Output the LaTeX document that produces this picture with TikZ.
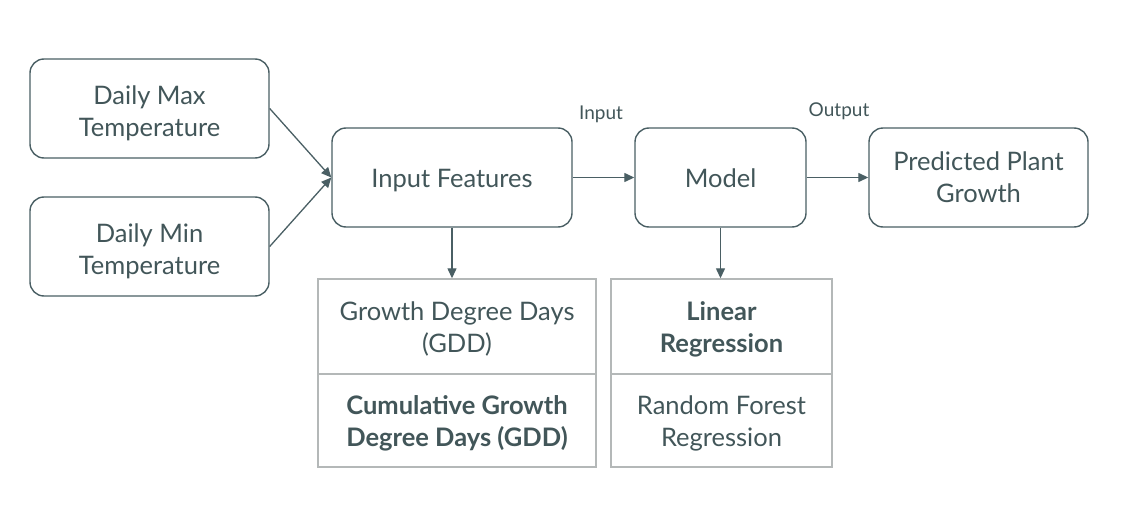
\documentclass[tikz,border=0pt]{standalone}
\usepackage{fontspec}
\setmainfont{Lato}
\usetikzlibrary{arrows.meta}
\definecolor{ink}{HTML}{4A5F64}
\definecolor{txt}{HTML}{425659}
\definecolor{cell}{HTML}{B4B8B8}
% first-line strut: height of "l" plus #1 pt, to place the text lines as in the reference
\newcommand{\ls}[1]{\rule{0pt}{\dimexpr\fontcharht\font`\l+#1pt\relax}}
\tikzset{
  rbox/.style={draw=ink, line width=1.4pt, rounded corners=14pt, align=center, text=txt,
    font=\fontsize{25.5}{32}\selectfont, inner sep=0pt, text depth=0pt},
  tcell/.style={draw=cell, line width=1.4pt, align=center, text=txt,
    font=\fontsize{25.5}{32}\selectfont, inner sep=0pt, text depth=0pt},
  bcell/.style={tcell, font=\fontsize{25.5}{32}\selectfont\bfseries},
  conn/.style={draw=ink, line width=1.3pt, -{Triangle[length=10pt,width=9pt]}},
  lbl/.style={text=txt, font=\fontsize{19}{22}\selectfont, inner sep=0pt}
}
\begin{document}
\begin{tikzpicture}[x=1pt,y=-1pt]
\useasboundingbox (0,0) rectangle (1140,511);
\node[rbox, minimum width=239pt, minimum height=99pt] (dmax) at (149.5,108.5) {\ls{6}Daily Max\\Temperature};
\node[rbox, minimum width=239pt, minimum height=99pt] (dmin) at (149.5,246.5) {\ls{6}Daily Min\\Temperature};
\node[rbox, minimum width=240pt, minimum height=99pt] (feat) at (452,177.5) {\ls{2.5}Input Features};
\node[rbox, minimum width=171pt, minimum height=99pt] (model) at (720.5,177.5) {\ls{2.5}Model};
\node[rbox, minimum width=219pt, minimum height=99pt] (pred) at (978.5,177.5) {\ls{0.5}Predicted Plant\\Growth};
\node[tcell, minimum width=278pt, minimum height=95pt] (gdd) at (457,326.5) {\ls{1}Growth Degree Days\\(GDD)};
\node[bcell, minimum width=278pt, minimum height=93pt] (cgdd) at (457,420.5) {\ls{2}Cumulative Growth\\Degree Days (GDD)};
\node[bcell, minimum width=221pt, minimum height=95pt] (lin) at (721.5,326.5) {\ls{1}Linear\\Regression};
\node[tcell, minimum width=221pt, minimum height=93pt] (rf) at (721.5,420.5) {\ls{2}Random Forest\\Regression};
\node[lbl] (inl) at (601,114) {Input};
\node[lbl] (outl) at (839,111) {Output};
\draw[conn] (dmax.east) -- (feat.west);
\draw[conn] (dmin.east) -- (feat.west);
\draw[conn] (feat.east) -- (model.west);
\draw[conn] (model.east) -- (pred.west);
\draw[conn] (feat.south) -- (feat.south |- gdd.north);
\draw[conn] (model.south) -- (model.south |- lin.north);
\end{tikzpicture}
\end{document}
